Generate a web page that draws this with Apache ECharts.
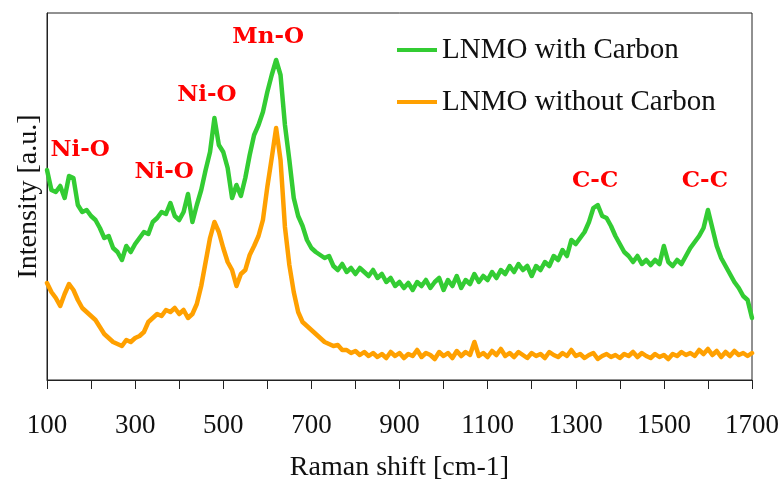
<!DOCTYPE html>
<html>
<head>
<meta charset="utf-8">
<script src="https://cdn.jsdelivr.net/npm/echarts@6/dist/echarts.min.js"></script>
<style>
  html, body { margin: 0; padding: 0; background: #fff; }
  #chart { width: 782px; height: 487px; }
</style>
</head>
<body>
<div id="chart"></div>
<script>
// Raman shift grid [cm-1]
const ramanShift = [
  100, 110, 120, 130, 140, 150, 160, 170, 180, 190,
  200, 210, 220, 230, 240, 250, 260, 270, 280, 290,
  300, 310, 320, 330, 340, 350, 360, 370, 380, 390,
  400, 410, 420, 430, 440, 450, 460, 470, 480, 490,
  500, 510, 520, 530, 540, 550, 560, 570, 580, 590,
  600, 610, 620, 630, 640, 650, 660, 670, 680, 690,
  700, 710, 720, 730, 740, 750, 760, 770, 780, 790,
  800, 810, 820, 830, 840, 850, 860, 870, 880, 890,
  900, 910, 920, 930, 940, 950, 960, 970, 980, 990,
  1000, 1010, 1020, 1030, 1040, 1050, 1060, 1070, 1080, 1090,
  1100, 1110, 1120, 1130, 1140, 1150, 1160, 1170, 1180, 1190,
  1200, 1210, 1220, 1230, 1240, 1250, 1260, 1270, 1280, 1290,
  1300, 1310, 1320, 1330, 1340, 1350, 1360, 1370, 1380, 1390,
  1400, 1410, 1420, 1430, 1440, 1450, 1460, 1470, 1480, 1490,
  1500, 1510, 1520, 1530, 1540, 1550, 1560, 1570, 1580, 1590,
  1600, 1610, 1620, 1630, 1640, 1650, 1660, 1670, 1680, 1690,
  1700
]

// intensity, arbitrary units
const withCarbon = [
  210, 190, 188, 194, 182, 204, 202, 175, 168, 170,
  164, 160, 152, 142, 144, 132, 128, 120, 134, 128,
  136, 142, 148, 146, 158, 162, 168, 166, 177, 164,
  160, 168, 186, 158, 175, 190, 210, 228, 262, 235,
  228, 212, 182, 195, 184, 202, 225, 245, 255, 268,
  288, 305, 320, 305, 255, 220, 182, 164, 154, 140,
  132, 128, 125, 122, 124, 114, 110, 116, 108, 112,
  106, 112, 108, 104, 110, 102, 106, 98, 102, 94,
  98, 92, 97, 90, 98, 94, 100, 92, 98, 102,
  90, 100, 94, 104, 92, 100, 96, 106, 98, 104,
  100, 108, 102, 110, 106, 114, 108, 116, 110, 114,
  104, 114, 110, 118, 114, 124, 120, 130, 124, 140,
  136, 142, 148, 158, 172, 175, 164, 162, 154, 144,
  136, 128, 124, 118, 124, 116, 120, 115, 120, 116,
  134, 118, 114, 120, 116, 124, 132, 138, 144, 152,
  170, 152, 134, 122, 114, 106, 98, 92, 84, 80,
  62
]

const withoutCarbon = [
  97, 88, 82, 74, 86, 96, 90, 80, 72, 68,
  64, 60, 53, 46, 42, 38, 36, 34, 40, 38,
  42, 44, 48, 58, 62, 66, 64, 70, 68, 72,
  66, 70, 62, 66, 76, 94, 118, 142, 158, 148,
  132, 118, 110, 94, 106, 110, 125, 134, 144, 160,
  193, 222, 252, 220, 153, 115, 88, 68, 58, 54,
  50, 46, 42, 38, 36, 34, 35, 30, 30, 27,
  29, 25, 28, 24, 27, 23, 26, 22, 28, 24,
  27, 22, 26, 24, 30, 23, 27, 25, 21, 28,
  24, 27, 22, 29, 24, 28, 25, 38, 24, 27,
  23, 29, 25, 31, 24, 27, 23, 28, 25, 22,
  27, 24, 26, 22, 28, 25, 23, 27, 24, 30,
  24, 26, 22, 25, 27, 21, 24, 26, 23, 25,
  22, 26, 24, 28, 23, 27, 24, 22, 26, 23,
  25, 21, 26, 24, 28, 25, 27, 24, 30, 26,
  31, 25, 29, 23, 28, 24, 29, 25, 27, 24,
  27
]

const seriesNames = ['LNMO with Carbon', 'LNMO without Carbon']
const seriesColors = ['#33cc33', '#ffa000']

// peak annotations
const peakNames = ['Ni-O', 'Ni-O', 'Ni-O', 'Mn-O', 'C-C', 'C-C']
const peakShifts = [175, 366, 463, 602, 1344, 1593]
const peakHeights = [230, 208, 285, 343, 199, 199]

const serif = '"Liberation Serif", "DejaVu Serif", serif'

function pairs (xs, ys) {
  return xs.map((x, i) => [x, ys[i]])
}

const myChart = echarts.init(document.getElementById('chart'), null, { renderer: 'canvas' })

const option = {
  animation: false,
  color: seriesColors,
  grid: {
    left: 47,
    right: 30,
    top: 13,
    bottom: 107,
    show: true,
    borderColor: '#222',
    borderWidth: 1
  },
  legend: {
    orient: 'vertical',
    left: 392,
    top: 30,
    itemWidth: 40,
    itemHeight: 4,
    itemGap: 22,
    icon: 'rect',
    data: seriesNames,
    textStyle: { fontFamily: serif, fontSize: 29, color: '#111', lineHeight: 30 }
  },
  xAxis: {
    type: 'value',
    min: 100,
    max: 1700,
    interval: 100,
    name: 'Raman shift [cm-1]',
    nameLocation: 'middle',
    nameGap: 74,
    nameTextStyle: { fontFamily: serif, fontSize: 28, color: '#111' },
    axisLine: { lineStyle: { color: '#222', width: 1 } },
    axisTick: { inside: false, length: 9, lineStyle: { color: '#222', width: 1 } },
    axisLabel: {
      margin: 32,
      fontFamily: serif,
      fontSize: 27,
      color: '#111',
      formatter: (v) => ((v - 100) % 200 === 0 ? String(v) : '')
    },
    splitLine: { show: false }
  },
  yAxis: {
    type: 'value',
    min: 0,
    max: 367,
    name: 'Intensity [a.u.]',
    nameLocation: 'middle',
    nameGap: 4,
    nameTextStyle: { fontFamily: serif, fontSize: 28, color: '#111' },
    axisLine: { show: true, lineStyle: { color: '#222', width: 1 } },
    axisTick: { show: false },
    axisLabel: { show: false },
    splitLine: { show: false }
  },
  series: [
    {
      name: seriesNames[0],
      type: 'line',
      data: pairs(ramanShift, withCarbon),
      symbol: 'none',
      lineStyle: { width: 4.5, cap: 'round', join: 'round' },
      z: 3,
      markPoint: {
        symbol: 'circle',
        symbolSize: 0,
        silent: true,
        label: {
          show: true,
          position: 'inside',
          formatter: '{b}',
          color: '#ff0000',
          fontFamily: '"DejaVu Serif", serif',
          fontWeight: 'bold',
          fontSize: 23
        },
        data: peakNames.map((name, i) => ({ name, coord: [peakShifts[i], peakHeights[i]] }))
      }
    },
    {
      name: seriesNames[1],
      type: 'line',
      data: pairs(ramanShift, withoutCarbon),
      symbol: 'none',
      lineStyle: { width: 4.5, cap: 'round', join: 'round' },
      z: 2
    }
  ]
}

myChart.setOption(option)
</script>
</body>
</html>
